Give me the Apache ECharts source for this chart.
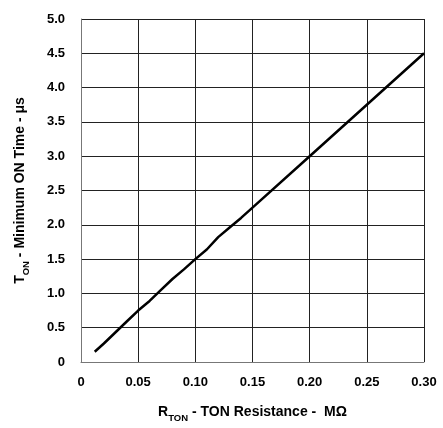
<!DOCTYPE html>
<html>
<head>
<meta charset="utf-8">
<script src="https://cdn.jsdelivr.net/npm/echarts@6/dist/echarts.min.js"></script>
<style>
  html, body { margin: 0; padding: 0; background: #fff; }
  #chart { width: 443px; height: 428px; }
</style>
</head>
<body>
<div id="chart"></div>
<script>
// R_TON (MΩ) vs T_ON (µs)
const resistance = [0.012, 0.02, 0.03, 0.04, 0.05, 0.06, 0.07, 0.08, 0.09, 0.10, 0.11, 0.12, 0.13, 0.14, 0.15, 0.20, 0.25, 0.30]
const onTime = [0.15, 0.27, 0.43, 0.59, 0.75, 0.89, 1.05, 1.21, 1.35, 1.50, 1.64, 1.82, 1.96, 2.10, 2.25, 3.00, 3.75, 4.50]
const xTicks = ['0', '0.05', '0.10', '0.15', '0.20', '0.25', '0.30']
const yTicks = ['0', '0.5', '1.0', '1.5', '2.0', '2.5', '3.0', '3.5', '4.0', '4.5', '5.0']

const font = 'Liberation Sans, Arial, sans-serif'
const chart = echarts.init(document.getElementById('chart'))

const nameRich = {
  b: { fontFamily: font, fontWeight: 'bold', fontSize: 14, color: '#000' },
  s: { fontFamily: font, fontWeight: 'bold', fontSize: 9.5, color: '#000', verticalAlign: 'bottom', padding: [0, 0, -4, 0] }
}

chart.setOption({
  animation: false,
  grid: { left: 81, right: 19, top: 19, bottom: 65 },
  xAxis: {
    type: 'value',
    min: 0, max: 0.3, interval: 0.05,
    name: '{b|R}{s|TON}{b| - TON Resistance -  MΩ}',
    nameLocation: 'middle',
    nameGap: 43,
    nameTextStyle: { rich: nameRich },
    axisLine: { lineStyle: { color: '#777', width: 1 } },
    axisTick: { show: false },
    axisLabel: {
      margin: 14,
      fontFamily: font, fontWeight: 'bold', fontSize: 13, color: '#000',
      formatter: (v) => xTicks[Math.round(v / 0.05)]
    },
    splitLine: { show: true, lineStyle: { color: '#222', width: 1 } }
  },
  yAxis: {
    type: 'value',
    min: 0, max: 5, interval: 0.5,
    name: '{b|T}{s|ON}{b| - Minimum ON Time - μs}',
    nameLocation: 'middle',
    nameGap: 54,
    nameRotate: 90,
    nameTextStyle: { rich: nameRich },
    axisLine: { show: true, lineStyle: { color: '#777', width: 1 } },
    axisTick: { show: false },
    axisLabel: {
      margin: 16,
      fontFamily: font, fontWeight: 'bold', fontSize: 13, color: '#000',
      formatter: (v) => yTicks[Math.round(v / 0.5)]
    },
    splitLine: { show: true, lineStyle: { color: '#222', width: 1 } }
  },
  series: [{
    type: 'line',
    data: resistance.map((r, i) => [r, onTime[i]]),
    showSymbol: false,
    lineStyle: { color: '#000', width: 2.5 }
  }]
})
</script>
</body>
</html>
